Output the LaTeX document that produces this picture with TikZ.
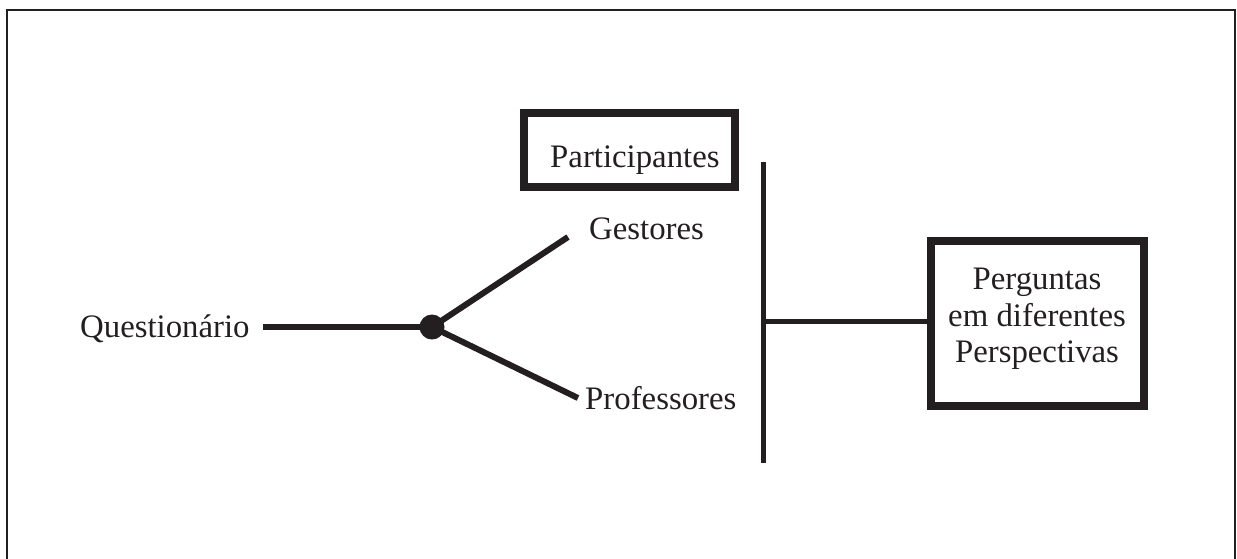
\documentclass[tikz,border=0pt]{standalone}
\usepackage{fontspec}
\setmainfont{Liberation Serif}
\definecolor{ink}{HTML}{231F20}
\begin{document}
\begin{tikzpicture}[x=1pt,y=-1pt,
  txt/.style={inner sep=0pt, text=ink, font=\fontsize{32.8}{36.5}\selectfont},
  boxframe/.style={draw=ink, line width=8pt, inner sep=0pt},
  conn/.style={draw=ink, line width=6pt},
  bar/.style={draw=ink, line width=5pt}]
\useasboundingbox (0,0) rectangle (1237,558);
% outer frame
\draw[ink, line width=2.5pt] (7,560) -- (7,10) -- (1235,10) -- (1235,560);

% boxes
\node[boxframe, minimum width=210.5pt, minimum height=74pt] (partbox) at (629.25,150) {};
\node[txt, anchor=base west] (part) at (550,167) {Participantes};
\node[boxframe, minimum width=213pt, minimum height=165pt] (pbox) at (1037.5,323.5) {};
\node[txt, align=center] (ptext) at (1037,319) {Perguntas\\em diferentes\\Perspectivas};

% labels
\node[txt, anchor=base west] (quest) at (80,337) {Questionário};
\node[txt, anchor=base west] (gest) at (589,239) {Gestores};
\node[txt, anchor=base west] (prof) at (585,409) {Professores};

% dot and branches
\node[circle, fill=ink, inner sep=0pt, minimum size=25pt] (dot) at (432,327) {};
\coordinate (qend) at (263,327);
\coordinate (gend) at (568,237);
\coordinate (pend) at (578,398);
\draw[conn] (qend) -- (dot.center);
\draw[conn] (dot.center) -- (gend);
\draw[conn] (dot.center) -- (pend);

% vertical bar and connector to box
\coordinate (vtop) at (763,162);
\coordinate (vbot) at (763,463);
\coordinate (vmid) at (763,321);
\draw[bar] (vtop) -- (vbot);
\draw[bar] (vmid) -- (vmid -| pbox.west);
\end{tikzpicture}
\end{document}
